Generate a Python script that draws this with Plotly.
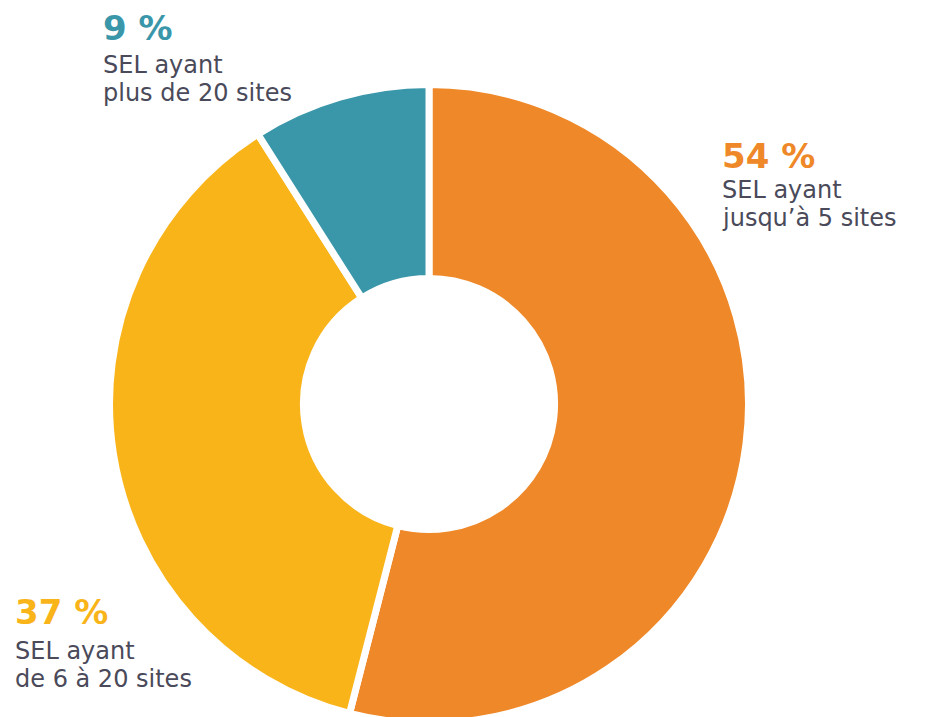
import plotly.graph_objects as go

labels = ['SEL ayant jusqu’à 5 sites', 'SEL ayant de 6 à 20 sites', 'SEL ayant plus de 20 sites']
values = [54, 37, 9]
colors = ['#EE8828', '#F9B41A', '#3A96A9']
pct_text = ['54 %', '37 %', '9 %']
line1 = ['SEL ayant', 'SEL ayant', 'SEL ayant']
line2 = ['jusqu’à 5 sites', 'de 6 à 20 sites', 'plus de 20 sites']

W, H = 926, 717
TEXT = '#4A4A5A'
FONT = 'DejaVu Sans'

fig = go.Figure(
    data=[
        go.Pie(
            labels=labels,
            values=values,
            sort=False,
            direction='clockwise',
            rotation=0,
            hole=0.393,
            marker=dict(colors=colors, line=dict(color='white', width=7)),
            textinfo='none',
            hoverinfo='label+percent',
            showlegend=False,
            domain=dict(x=[0.1091, 0.8002], y=[0.0021, 0.8933]),
        )
    ]
)

# label blocks: left edge, top of percent, top of first and second text line (px)
pos = [(712, 126, 166, 194), (5, 582, 627, 655), (93, -2, 41, 69)]


def note(x, y, text, size, color, bold=False):
    fig.add_annotation(
        x=x / W, y=1 - y / H, xref='paper', yref='paper',
        xanchor='left', yanchor='top', showarrow=False, align='left',
        text='<b>' + text + '</b>' if bold else text,
        font=dict(family=FONT, size=size, color=color),
    )


for i in range(3):
    x, yp, y1, y2 = pos[i]
    note(x, yp, pct_text[i], 34, colors[i], bold=True)
    note(x, y1, line1[i], 24, TEXT)
    note(x, y2, line2[i], 24, TEXT)

fig.update_layout(
    width=W, height=H,
    margin=dict(l=0, r=0, t=0, b=0),
    paper_bgcolor='white',
    plot_bgcolor='white',
)

fig.write_html('out.html')
